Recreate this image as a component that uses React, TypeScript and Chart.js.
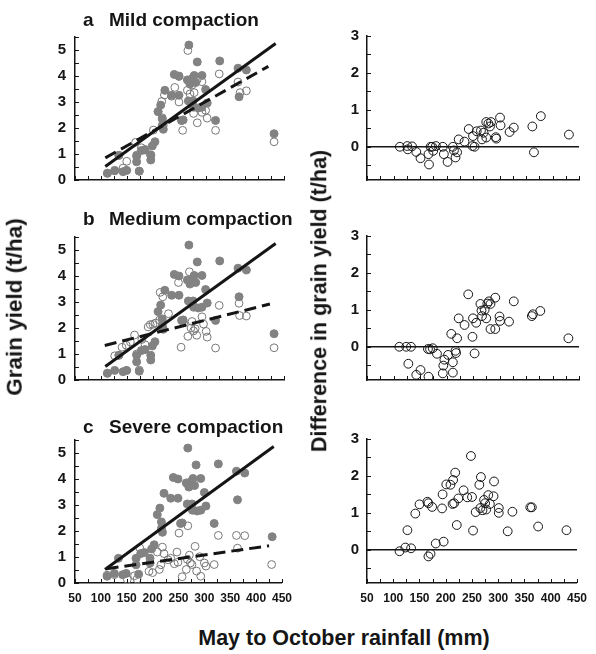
import React, { useEffect, useRef } from "react";
import { Chart, registerables } from "chart.js";
Chart.register(...registerables);

// ---------- tick values ----------
const RAIN_TICKS = [50, 100, 150, 200, 250, 300, 350, 400, 450];
const RAIN_MINOR = [50, 75, 100, 125, 150, 175, 200, 225, 250, 275, 300, 325, 350, 375, 400, 425, 450];
const YIELD_TICKS = [0, 1, 2, 3, 4, 5];
const YIELD_MINOR = [0, 0.5, 1, 1.5, 2, 2.5, 3, 3.5, 4, 4.5, 5, 5.5];
const DIFF_TICKS = [0, 1, 2, 3];
const DIFF_MINOR = [-0.5, 0, 0.5, 1, 1.5, 2, 2.5, 3];

// ---------- control (filled grey) ----------
const CONTROL_RAIN = [112, 126, 134, 142, 149, 168, 168, 173, 177, 184, 195, 195, 198, 203, 209, 214, 217, 217, 219, 222, 235, 240, 249, 249, 254, 257, 268, 265, 270, 274, 278, 281, 267, 276, 277, 284, 286, 293, 293, 300, 303, 319, 327, 362, 364, 378, 431];
const CONTROL_YIELD = [0.26, 0.37, 0.95, 0.32, 0.37, 0.95, 0.7, 0.34, 1.13, 1.17, 0.95, 0.77, 1.31, 1.47, 2.63, 2.88, 2.35, 2.1, 1.95, 3.45, 3.26, 4.06, 4.0, 3.26, 2.29, 2.31, 5.19, 3.85, 3.69, 3.9, 4.02, 3.75, 3.04, 3.04, 2.8, 4.54, 2.77, 2.8, 4.02, 3.48, 2.96, 2.29, 4.58, 4.3, 3.2, 4.23, 1.78];

// ---------- compacted (open) ----------
const MILD_RAIN = [112, 126, 134, 142, 149, 166, 168, 173, 177, 184, 195, 195, 200, 209, 216, 217, 219, 221, 235, 241, 249, 249, 254, 256, 265, 266, 270, 274, 277, 278, 284, 284, 293, 293, 300, 303, 319, 326, 362, 366, 378, 431];
const MILD_YIELD = [0.26, 0.35, 0.94, 0.46, 0.72, 1.45, 0.9, 0.34, 1.24, 1.15, 0.95, 0.97, 1.92, 2.63, 3.02, 2.39, 2.1, 3.27, 3.22, 3.56, 3.98, 3.0, 2.29, 1.91, 3.45, 4.98, 3.31, 3.65, 2.56, 3.36, 2.2, 3.87, 3.78, 2.6, 2.68, 2.38, 1.91, 4.08, 3.77, 3.36, 3.43, 1.47];

const MEDIUM_RAIN = [112, 126, 134, 140, 148, 156, 164, 168, 173, 178, 184, 190, 194, 199, 204, 212, 213, 218, 229, 248, 253, 258, 266, 269, 272, 274, 277, 280, 283, 293, 296, 301, 303, 319, 326, 364, 365, 378, 431];
const MEDIUM_YIELD = [0.26, 0.93, 0.95, 1.26, 1.34, 1.46, 1.73, 1.0, 0.38, 1.56, 1.36, 2.04, 2.13, 2.14, 2.19, 2.31, 3.37, 3.2, 2.55, 3.75, 1.26, 2.2, 1.68, 4.16, 2.0, 2.25, 1.89, 1.97, 1.72, 2.43, 2.15, 1.87, 1.65, 1.23, 2.87, 2.95, 2.48, 2.46, 1.24];

const SEVERE_RAIN = [112, 126, 151, 165, 170, 175, 193, 200, 209, 213, 216, 219, 222, 230, 235, 242, 247, 249, 251, 257, 265, 267, 268, 271, 273, 276, 282, 285, 291, 293, 300, 303, 319, 327, 362, 364, 378, 430];
const SEVERE_YIELD = [0.3, 0.32, 0.14, 0.28, 0.15, 1.35, 0.45, 0.4, 1.19, 0.52, 0.7, 1.38, 1.13, 0.89, 0.95, 0.74, 1.19, 0.8, 1.92, 0.24, 0.52, 0.91, 2.2, 1.07, 0.77, 0.71, 1.41, 0.46, 1.01, 0.26, 0.77, 0.65, 0.71, 1.83, 1.83, 1.34, 1.82, 0.71];

// ---------- fitted lines (end points) ----------
const CONTROL_FIT_RAIN = [108, 434];
const CONTROL_FIT = [0.52, 5.25];
const MILD_FIT_RAIN = [108, 420];
const MILD_FIT = [0.85, 4.37];
const MEDIUM_FIT_RAIN = [107, 423];
const MEDIUM_FIT = [1.33, 2.92];
const SEVERE_FIT_RAIN = [111, 425];
const SEVERE_FIT = [0.55, 1.43];

// ---------- differences ----------
const DIFF_MILD_RAIN = [112, 126, 127, 135, 143, 151, 166, 167, 170, 173, 175, 180, 193, 195, 202, 212, 214, 217, 220, 223, 234, 242, 249, 250, 253, 257, 265, 267, 270, 275, 275, 279, 282, 284, 293, 294, 301, 302, 319, 327, 362, 365, 378, 431];
const DIFF_MILD = [0, 0.02, -0.07, 0.01, -0.14, -0.31, -0.2, -0.48, 0, 0, -0.11, 0.02, 0, -0.2, -0.41, 0, -0.1, -0.29, -0.15, 0.2, 0.14, 0.48, 0.02, 0.29, 0, 0.42, 0.44, 0.2, 0.38, 0.25, 0.67, 0.63, 0.55, 0.67, 0.26, 0.22, 0.79, 0.58, 0.4, 0.52, 0.55, -0.15, 0.83, 0.33];

const DIFF_MEDIUM_RAIN = [111, 124, 133, 128, 143, 151, 166, 165, 169, 174, 182, 193, 194, 196, 203, 212, 212, 217, 218, 209, 220, 223, 234, 241, 249, 250, 253, 256, 264, 266, 267, 272, 275, 277, 280, 283, 283, 292, 292, 300, 301, 318, 327, 361, 363, 377, 430];
const DIFF_MEDIUM = [0, 0, 0, -0.46, -0.76, -0.63, -0.81, -0.06, -0.07, -0.04, -0.19, -0.72, -0.51, -0.35, -0.22, -0.7, -0.42, -0.11, -0.17, 0.35, 0.23, 0.77, 0.59, 1.42, 0.27, 0.77, -0.18, 0.65, 1.16, 0.98, 0.83, 1.0, 0.77, 1.17, 1.23, 1.16, 0.48, 1.33, 0.48, 0.82, 0.7, 0.68, 1.23, 0.83, 0.88, 0.97, 0.23];

const DIFF_SEVERE_RAIN = [112, 123, 127, 134, 142, 150, 165, 167, 167, 171, 174, 181, 194, 193, 196, 201, 209, 213, 214, 218, 216, 221, 224, 234, 241, 250, 248, 252, 257, 264, 267, 266, 270, 273, 275, 277, 281, 284, 291, 292, 301, 301, 318, 327, 361, 364, 376, 430];
const DIFF_SEVERE = [-0.04, 0.06, 0.53, 0.04, 0.98, 1.23, 1.3, 1.26, -0.18, -0.11, 1.16, 0.17, 1.5, 1.12, 0.22, 1.77, 1.76, 1.24, 1.89, 2.09, 1.26, 0.67, 1.39, 1.61, 1.42, 1.43, 2.54, 0.52, 1.02, 1.76, 1.97, 1.13, 1.07, 1.35, 1.26, 1.09, 1.48, 1.24, 1.45, 1.85, 1.13, 1.0, 0.5, 1.03, 1.15, 1.15, 0.63, 0.53];

const ZERO_RAIN = [50, 450];
const ZERO_LINE = [0, 0];

// ---------- styling ----------
const FONT = "'Liberation Sans', Arial, Helvetica, sans-serif";
const INK = "#151515";
const GREY = "#828282";

const pts = (xs: number[], ys: number[]) => xs.map((x, i) => ({ x, y: ys[i] }));

function tickPlugin(yMinor: number[]) {
  return {
    id: "innerTicks",
    afterDraw(chart: any) {
      const { ctx } = chart;
      const xs = chart.scales.x;
      const ys = chart.scales.y;
      ctx.save();
      ctx.strokeStyle = INK;
      ctx.lineWidth = 1;
      for (const v of RAIN_MINOR) {
        const px = Math.round(xs.getPixelForValue(v)) + 0.5;
        ctx.beginPath();
        ctx.moveTo(px, ys.bottom);
        ctx.lineTo(px, ys.bottom - 4);
        ctx.stroke();
      }
      for (const v of yMinor) {
        const py = Math.round(ys.getPixelForValue(v)) + 0.5;
        ctx.beginPath();
        ctx.moveTo(xs.left, py);
        ctx.lineTo(xs.left + 4, py);
        ctx.stroke();
      }
      ctx.restore();
    },
  };
}

type PanelSpec = {
  left: number;
  top: number;
  width: number;
  height: number;
  yWidth: number;
  yMin: number;
  yMax: number;
  yTicks: number[];
  yMinor: number[];
  showX: boolean;
  yPad: number;
  datasets: any[];
};

function Panel({ spec }: { spec: PanelSpec }) {
  const ref = useRef<HTMLCanvasElement | null>(null);
  useEffect(() => {
    if (!ref.current) return;
    const chart = new Chart(ref.current, {
      type: "scatter",
      data: { datasets: spec.datasets },
      options: {
        animation: false,
        responsive: false,
        devicePixelRatio: 1,
        events: [],
        layout: { padding: { top: 10, right: 16, left: 0, bottom: 0 } },
        plugins: {
          legend: { display: false },
          tooltip: { enabled: false },
          title: { display: false },
        },
        scales: {
          x: {
            type: "linear",
            min: 50,
            max: 450,
            afterBuildTicks: (s: any) => {
              s.ticks = RAIN_TICKS.map((v) => ({ value: v }));
            },
            afterFit: (s: any) => {
              s.height = 22;
            },
            grid: { display: true, drawOnChartArea: false, drawTicks: false },
            border: { display: true, color: INK, width: 1.5 },
            ticks: {
              display: spec.showX,
              padding: 8,
              autoSkip: false,
              maxRotation: 0,
              color: INK,
              font: { family: FONT, size: 12, weight: "bold" },
            },
          },
          y: {
            type: "linear",
            min: spec.yMin,
            max: spec.yMax,
            afterBuildTicks: (s: any) => {
              s.ticks = spec.yTicks.map((v) => ({ value: v }));
            },
            afterFit: (s: any) => {
              s.width = spec.yWidth;
            },
            grid: { display: true, drawOnChartArea: false, drawTicks: false },
            border: { display: true, color: INK, width: 1.5 },
            ticks: {
              padding: spec.yPad,
              color: INK,
              font: { family: FONT, size: 15, weight: "bold" },
            },
          },
        },
      } as any,
      plugins: [tickPlugin(spec.yMinor)],
    });
    return () => chart.destroy();
  }, [spec]);
  return (
    <canvas
      ref={ref}
      width={spec.width}
      height={spec.height}
      style={{ position: "absolute", left: spec.left, top: spec.top, width: spec.width, height: spec.height }}
    />
  );
}

function fitLine(xs: number[], ys: number[], dashed: boolean) {
  return {
    data: pts(xs, ys),
    showLine: true,
    pointRadius: 0,
    borderColor: INK,
    borderWidth: 3,
    borderDash: dashed ? [12, 6] : [],
    fill: false,
    order: 0,
  };
}

function leftDatasets(openX: number[], openY: number[], fx: number[], fy: number[]) {
  return [
    fitLine(CONTROL_FIT_RAIN, CONTROL_FIT, false),
    fitLine(fx, fy, true),
    {
      data: pts(CONTROL_RAIN, CONTROL_YIELD),
      pointRadius: 4,
      pointBorderWidth: 1,
      backgroundColor: GREY,
      borderColor: GREY,
      order: 1,
    },
    {
      data: pts(openX, openY),
      pointRadius: 3.9,
      pointBorderWidth: 1,
      backgroundColor: "rgba(255,255,255,0)",
      borderColor: "#777777",
      order: 2,
    },
  ];
}

function rightDatasets(dx: number[], dy: number[]) {
  return [
    {
      data: pts(dx, dy),
      pointRadius: 4.4,
      pointBorderWidth: 1,
      backgroundColor: "rgba(255,255,255,0)",
      borderColor: INK,
      order: 0,
    },
    {
      data: pts(ZERO_RAIN, ZERO_LINE),
      showLine: true,
      pointRadius: 0,
      borderColor: INK,
      borderWidth: 1.5,
      order: 1,
    },
  ];
}

const LEFT_BASE = { left: 0, width: 300, height: 183, yWidth: 75, yMin: 0, yMax: 5.5, yTicks: YIELD_TICKS, yMinor: YIELD_MINOR, yPad: 9 };
const RIGHT_BASE = { left: 300, width: 295, height: 183, yWidth: 67, yMin: -0.9, yMax: 3, yTicks: DIFF_TICKS, yMinor: DIFF_MINOR, yPad: 8 };

const PANELS: PanelSpec[] = [
  { ...LEFT_BASE, top: 19, showX: false, datasets: leftDatasets(MILD_RAIN, MILD_YIELD, MILD_FIT_RAIN, MILD_FIT) },
  { ...LEFT_BASE, top: 219, showX: false, datasets: leftDatasets(MEDIUM_RAIN, MEDIUM_YIELD, MEDIUM_FIT_RAIN, MEDIUM_FIT) },
  { ...LEFT_BASE, top: 422, showX: true, datasets: leftDatasets(SEVERE_RAIN, SEVERE_YIELD, SEVERE_FIT_RAIN, SEVERE_FIT) },
  { ...RIGHT_BASE, top: 19, showX: false, datasets: rightDatasets(DIFF_MILD_RAIN, DIFF_MILD) },
  { ...RIGHT_BASE, top: 219, showX: false, datasets: rightDatasets(DIFF_MEDIUM_RAIN, DIFF_MEDIUM) },
  { ...RIGHT_BASE, top: 422, showX: true, datasets: rightDatasets(DIFF_SEVERE_RAIN, DIFF_SEVERE) },
];

const PANEL_TITLES = [
  { letter: "a", text: "Mild compaction", top: 10 },
  { letter: "b", text: "Medium compaction", top: 209 },
  { letter: "c", text: "Severe compaction", top: 417 },
];

const txt: React.CSSProperties = {
  position: "absolute",
  fontFamily: FONT,
  fontWeight: "bold",
  color: INK,
  whiteSpace: "nowrap",
  lineHeight: 1,
};

export default function App() {
  return (
    <div style={{ position: "absolute", left: 0, top: 0, width: 596, height: 654, background: "#fff", overflow: "hidden" }}>
      {PANELS.map((p, i) => (
        <Panel key={i} spec={p} />
      ))}
      {PANEL_TITLES.map((t) => (
        <React.Fragment key={t.letter}>
          <div style={{ ...txt, left: 83, top: t.top, fontSize: 19 }}>{t.letter}</div>
          <div style={{ ...txt, left: 109, top: t.top, fontSize: 19 }}>{t.text}</div>
        </React.Fragment>
      ))}
      <div style={{ ...txt, left: 15, top: 307, fontSize: 22.5, transform: "translate(-50%, -50%) rotate(-90deg)" }}>
        Grain yield (t/ha)
      </div>
      <div style={{ ...txt, left: 320, top: 301, fontSize: 21.5, transform: "translate(-50%, -50%) rotate(-90deg)" }}>
        Difference in grain yield (t/ha)
      </div>
      <div style={{ ...txt, left: 344, top: 628, fontSize: 21.5, transform: "translateX(-50%)" }}>
        May to October rainfall (mm)
      </div>
    </div>
  );
}
